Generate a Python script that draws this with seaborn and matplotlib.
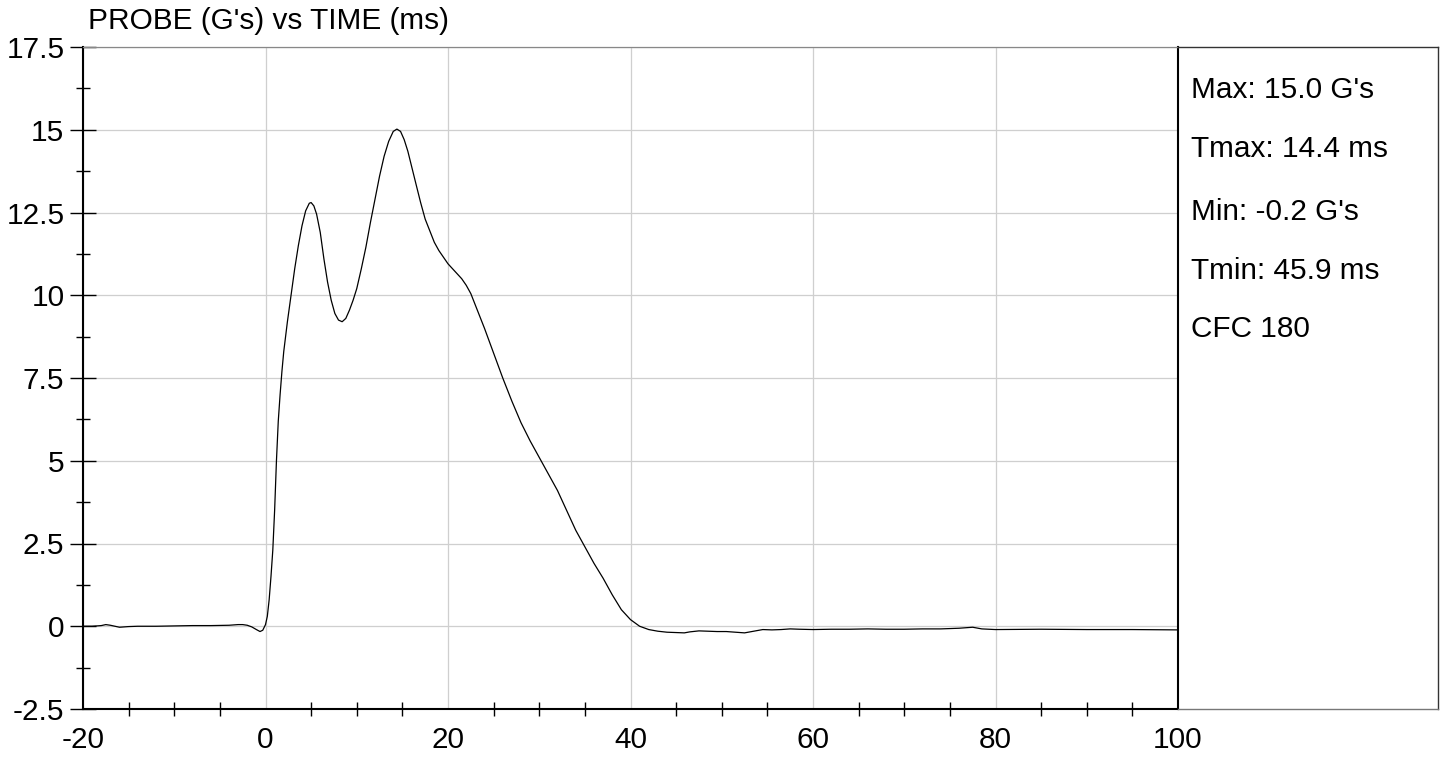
import matplotlib
matplotlib.use("Agg")
import matplotlib.pyplot as plt
from matplotlib.ticker import MultipleLocator, FixedLocator
import seaborn as sns
import pandas as pd

# ---- data ----
time_ms = [-20, -19, -18, -17.5, -17, -16, -15, -14, -12, -10, -8, -6, -4, -3, -2.5, -2, -1.5,
           -1.0, -0.6, -0.3, 0.0, 0.2, 0.4, 0.6, 0.8, 1.0, 1.2, 1.4, 1.6, 1.8, 2.0, 2.4, 2.8,
           3.2, 3.6, 4.0, 4.4, 4.8, 5.0, 5.3, 5.6, 6.0, 6.4, 6.8, 7.2, 7.6, 8.0, 8.4, 8.8,
           9.2, 9.6, 10.0, 10.5, 11.0, 11.5, 12.0, 12.5, 13.0, 13.5, 14.0, 14.4, 14.8, 15.2,
           15.6, 16.0, 16.5, 17.0, 17.5, 18.0, 18.5, 19.0, 19.5, 20.0, 20.5, 21.0, 21.5, 22.0,
           22.5, 23.0, 24.0, 25.0, 26.0, 27.0, 28.0, 29.0, 30.0, 31.0, 32.0, 33.0, 34.0, 35.0,
           36.0, 37.0, 38.0, 39.0, 40.0, 41.0, 42.0, 43.0, 44.0, 45.0, 45.9, 46.5, 47.5, 48.5,
           49.5, 50.5, 51.5, 52.5, 53.5, 54.5, 55.5, 56.5, 57.5, 58.5, 60, 62, 64, 66, 68, 70,
           72, 74, 76, 77.5, 78.5, 80, 85, 90, 95, 100]
probe_g = [0.00, 0.00, 0.02, 0.05, 0.03, -0.03, -0.01, 0.0, 0.0, 0.01, 0.02, 0.02, 0.03, 0.05,
           0.05, 0.03, -0.02, -0.10, -0.16, -0.12, 0.05, 0.3, 0.8, 1.5, 2.3, 3.5, 5.0, 6.2, 7.0,
           7.7, 8.3, 9.2, 10.0, 10.8, 11.5, 12.1, 12.55, 12.78, 12.8, 12.7, 12.45, 11.9, 11.1,
           10.4, 9.85, 9.45, 9.25, 9.2, 9.3, 9.55, 9.85, 10.2, 10.8, 11.45, 12.2, 12.9, 13.6,
           14.2, 14.65, 14.95, 15.02, 14.95, 14.7, 14.35, 13.9, 13.35, 12.8, 12.3, 11.95, 11.6,
           11.35, 11.15, 10.95, 10.8, 10.65, 10.5, 10.3, 10.05, 9.7, 9.0, 8.25, 7.5, 6.8, 6.15,
           5.6, 5.1, 4.6, 4.1, 3.5, 2.9, 2.4, 1.9, 1.45, 0.95, 0.5, 0.2, 0.0, -0.1, -0.15,
           -0.18, -0.19, -0.2, -0.17, -0.14, -0.15, -0.16, -0.16, -0.18, -0.2, -0.15, -0.1,
           -0.11, -0.1, -0.08, -0.09, -0.1, -0.09, -0.09, -0.08, -0.09, -0.09, -0.08, -0.08,
           -0.06, -0.03, -0.08, -0.1, -0.09, -0.1, -0.1, -0.11]

title_text = "PROBE (G's) vs TIME (ms)"
info_lines = ["Max: 15.0 G's", "Tmax: 14.4 ms", "Min: -0.2 G's", "Tmin: 45.9 ms", "CFC 180"]
x_ticks = [-20, 0, 20, 40, 60, 80, 100]
y_ticks = [-2.5, 0, 2.5, 5, 7.5, 10, 12.5, 15, 17.5]
y_tick_labels = ["-2.5", "0", "2.5", "5", "7.5", "10", "12.5", "15", "17.5"]

sns.set_theme(style="white")
plt.rcParams['font.family'] = ['Liberation Sans', 'DejaVu Sans']
plt.rcParams['axes.unicode_minus'] = False

FS = 21.4
W, H = 1444, 759
fig = plt.figure(figsize=(W / 100, H / 100), dpi=100)

left_px, right_px, top_px, bot_px = 83, 1178, 47, 709
ax = fig.add_axes([left_px / W, 1 - bot_px / H, (right_px - left_px) / W, (bot_px - top_px) / H])

df = pd.DataFrame({"time": time_ms, "probe": probe_g})
sns.lineplot(data=df, x="time", y="probe", ax=ax, color="black", linewidth=0.9, zorder=3)

ax.set_xlim(-20, 100)
ax.set_ylim(-2.5, 17.5)
ax.set_xlabel("")
ax.set_ylabel("")

ax.xaxis.set_major_locator(FixedLocator(x_ticks))
ax.xaxis.set_minor_locator(MultipleLocator(5))
ax.yaxis.set_major_locator(FixedLocator(y_ticks))
ax.set_yticklabels(y_tick_labels)
ax.yaxis.set_minor_locator(MultipleLocator(1.25))

ax.grid(True, which="major", color="#cfcfcf", linewidth=0.9, zorder=0)
ax.set_axisbelow(True)

ax.tick_params(axis="x", which="major", direction="out", length=9.4, width=0.8,
               color="#777777", labelsize=FS, pad=3, labelcolor="black")
ax.tick_params(axis="x", which="minor", direction="inout", length=10, width=1.0,
               color="black", bottom=True)
ax.tick_params(axis="y", which="major", direction="inout", length=18.7, width=1.0,
               color="black", labelsize=FS, pad=4, labelcolor="black", left=True)
ax.tick_params(axis="y", which="minor", direction="inout", length=9.4, width=1.0,
               color="black", left=True)

for s in ["left", "bottom"]:
    ax.spines[s].set_color("black")
    ax.spines[s].set_linewidth(1.5)
ax.spines["top"].set_color("#888888")
ax.spines["top"].set_linewidth(0.9)
ax.spines["right"].set_color("black")
ax.spines["right"].set_linewidth(1.5)

# info panel
pax = fig.add_axes([right_px / W, 1 - bot_px / H, (1438 - right_px) / W, (bot_px - top_px) / H])
pax.set_xticks([])
pax.set_yticks([])
pax.set_xlim(0, 1)
pax.set_ylim(0, 1)
pax.spines["left"].set_visible(False)
for s in ["top", "right"]:
    pax.spines[s].set_color("#333333")
    pax.spines[s].set_linewidth(1.0)
pax.spines["bottom"].set_color("#777777")
pax.spines["bottom"].set_linewidth(1.0)
pax.patch.set_alpha(0)

baselines = [98, 157, 220, 279, 337]
for txt, b in zip(info_lines, baselines):
    fig.text(1191 / W, 1 - b / H, txt, fontsize=FS, ha="left", va="baseline", color="black")

fig.text(88 / W, 1 - 29 / H, title_text, fontsize=FS, ha="left", va="baseline", color="black")

fig.savefig("out.png", dpi=100, facecolor="white")
